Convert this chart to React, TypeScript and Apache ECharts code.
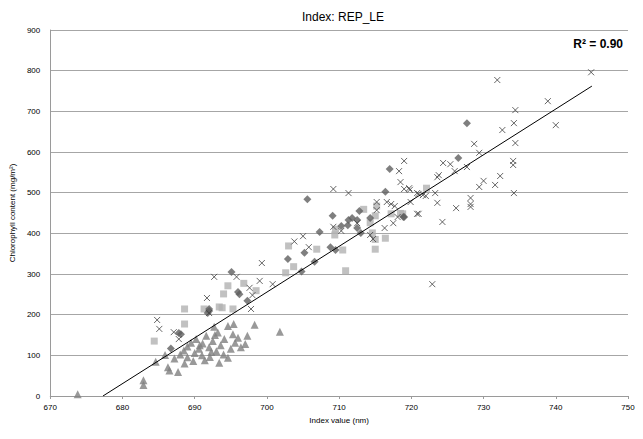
import React, { useEffect, useRef } from "react";
import * as echarts from "echarts";

const xTicks = [670, 680, 690, 700, 710, 720, 730, 740, 750];
const yTicks = [0, 100, 200, 300, 400, 500, 600, 700, 800, 900];

const triangles: [number, number][] = [
  [673.8, 4], [682.9, 39], [682.9, 27], [684.6, 84], [685.9, 101], [686.3, 71], [686.5, 63],
  [687.7, 59], [687.2, 92], [688, 102], [688.5, 112], [689, 95], [689, 122], [689.5, 131],
  [690, 106], [690.2, 140], [690.6, 116], [691, 100], [691.1, 129], [691.6, 148], [692, 120],
  [692.1, 96], [692.5, 135], [692.8, 150], [692.7, 170], [693, 110], [693.2, 156], [693.6, 125],
  [694, 102], [694.1, 140], [694.6, 172], [694.6, 94], [695, 116], [695.3, 152], [695.4, 177],
  [695.6, 131], [696, 143], [696.4, 120], [697.3, 148], [697, 128], [698.3, 175], [701.8, 158],
  [689.8, 86], [691.4, 88], [693.4, 82], [688.6, 80], [690.7, 125], [692.3, 108]
];

const squares: [number, number][] = [
  [684.4, 135], [688.6, 214], [688.6, 177], [691.3, 214], [693.4, 219], [693.8, 217],
  [695.3, 214], [694, 251], [694.6, 271], [696.8, 277], [698.5, 259], [703, 369], [702.6, 303],
  [703.7, 318], [706.9, 361], [709.4, 396], [710.5, 359], [710.9, 308], [713.4, 459],
  [709.5, 410], [715, 443], [714.3, 426], [714.6, 401], [715, 385], [715, 361], [716.4, 388],
  [717.2, 448], [718.5, 449], [722.1, 511], [715.2, 467], [718.8, 448]
];

const diamonds: [number, number][] = [
  [686.7, 117], [687.8, 155], [688.1, 152], [692, 214], [691.8, 204], [695.1, 305], [696, 256],
  [696.2, 250], [697.3, 234], [692, 209], [702.9, 337], [705.2, 352], [706.6, 330], [704.8, 306],
  [707.3, 403], [708.8, 366], [709.5, 359], [705.6, 484], [709.1, 443], [710.3, 418],
  [711.3, 433], [711.8, 438], [712.5, 433], [712.8, 455], [711.2, 420], [712.5, 413], [713, 401],
  [714.3, 438], [716.4, 502], [717, 558], [719, 440], [727.7, 671], [726.5, 585], [718.9, 440]
];

const crosses: [number, number][] = [
  [692.7, 293], [691.7, 241], [684.8, 187], [685.1, 165], [687.1, 157], [687.8, 140],
  [705, 393], [705.8, 366], [699.3, 327], [695.8, 293], [699, 283], [700.8, 275], [697.6, 266],
  [698, 248], [697.8, 214], [692, 204], [719, 578], [718.3, 553], [718.5, 526], [719, 509],
  [719.8, 507], [720.8, 499], [721.6, 494], [709.2, 509], [711.3, 499], [715.2, 477], [716.6, 477],
  [717.2, 472], [717.7, 467], [719.9, 477], [723.3, 499], [723.6, 475], [715.2, 457], [718.1, 440],
  [717.5, 425], [716.3, 413], [720.8, 448], [709.2, 416], [710.3, 406], [712.5, 425], [714.3, 396],
  [714.7, 386], [703.8, 380], [722.9, 275], [738.9, 725], [740, 666], [734.4, 703], [734.2, 671],
  [732.6, 654], [734.4, 622], [728.7, 620], [729.4, 598], [734.1, 578], [734.1, 568], [732.3, 541],
  [730, 529], [731.6, 519], [729.4, 514], [734.2, 499], [727.7, 563], [726, 553], [725.4, 570],
  [724.4, 573], [723.8, 543], [723.6, 538], [721, 497], [719.7, 511], [722, 492], [726.2, 462],
  [728.2, 487], [728.2, 472], [728.2, 465], [724.3, 428], [721, 448], [731.9, 777], [744.9, 796]
];

const trendLine: [number, number][] = [[677.3, 0], [745, 762]];
const rSquared = "R² = 0.90";

const crossPath = "path://M0,0L10,10M10,0L0,10";
const font = "Liberation Sans";

export default function App() {
  const ref = useRef<HTMLDivElement>(null);
  useEffect(() => {
    if (!ref.current) return;
    const chart = echarts.init(ref.current, null, { renderer: "svg" });
    chart.setOption({
      animation: false,
      backgroundColor: "#ffffff",
      textStyle: { fontFamily: font },
      title: {
        text: "Index: REP_LE",
        left: 338,
        textAlign: "center",
        top: 6,
        textStyle: { fontFamily: font, fontSize: 12, fontWeight: "normal", color: "#000" }
      },
      graphic: [
        {
          type: "text",
          right: 20,
          top: 38,
          style: { text: rSquared, fontFamily: font, fontSize: 12, fontWeight: "bold", fill: "#000" }
        }
      ],
      grid: { left: 49, right: 15, top: 30, bottom: 43, containLabel: false },
      xAxis: {
        type: "value",
        min: xTicks[0],
        max: xTicks[xTicks.length - 1],
        interval: 10,
        name: "Index value (nm)",
        nameLocation: "middle",
        nameGap: 20,
        nameTextStyle: { fontFamily: font, fontSize: 8, color: "#000" },
        axisLine: { lineStyle: { color: "#9a9a9a", width: 1 } },
        axisTick: { show: true, inside: false, length: 3, lineStyle: { color: "#9a9a9a" } },
        axisLabel: { fontFamily: font, fontSize: 8, color: "#000", margin: 7 },
        splitLine: { show: false }
      },
      yAxis: {
        type: "value",
        min: yTicks[0],
        max: yTicks[yTicks.length - 1],
        interval: 100,
        name: "Chlorophyll content (mg/m²)",
        nameLocation: "middle",
        nameGap: 34,
        nameRotate: 90,
        nameTextStyle: { fontFamily: font, fontSize: 8, color: "#000" },
        axisLine: { show: true, lineStyle: { color: "#9a9a9a", width: 1 } },
        axisTick: { show: false },
        axisLabel: { fontFamily: font, fontSize: 8, color: "#000", margin: 10 },
        splitLine: { show: true, lineStyle: { color: "#a6a6a6", width: 1 } }
      },
      series: [
        {
          type: "scatter",
          data: triangles,
          symbol: "triangle",
          symbolSize: 8,
          itemStyle: { color: "#7f7f7f" }
        },
        {
          type: "scatter",
          data: squares,
          symbol: "rect",
          symbolSize: 7,
          itemStyle: { color: "#b2b2b2" }
        },
        {
          type: "scatter",
          data: diamonds,
          symbol: "diamond",
          symbolSize: 8,
          itemStyle: { color: "#5f5f5f" }
        },
        {
          type: "scatter",
          data: crosses,
          symbol: crossPath,
          symbolSize: 6,
          itemStyle: { color: "none", borderColor: "#404040", borderWidth: 1 }
        },
        {
          type: "line",
          data: trendLine,
          showSymbol: false,
          symbol: "none",
          lineStyle: { color: "#000", width: 1 },
          z: 5
        }
      ]
    });
    return () => chart.dispose();
  }, []);
  return (
    <div
      ref={ref}
      style={{ position: "fixed", left: 0, top: 0, width: 643, height: 439, background: "#fff" }}
    />
  );
}
